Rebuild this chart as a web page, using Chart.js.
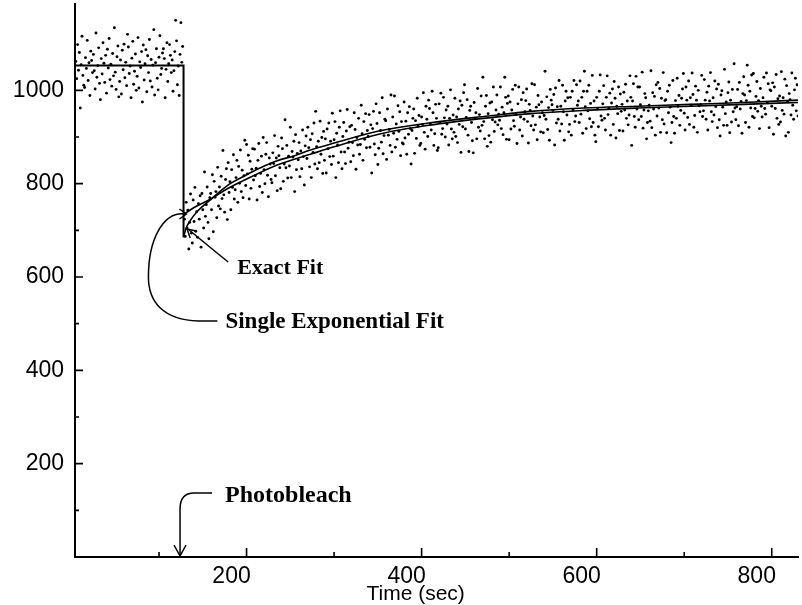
<!DOCTYPE html>
<html>
<head>
<meta charset="utf-8">
<script src="https://cdn.jsdelivr.net/npm/chart.js@4.4.1/dist/chart.umd.min.js"></script>
<style>
  html, body { margin: 0; padding: 0; background: #fff; }
  #wrap { width: 802px; height: 605px; }
</style>
</head>
<body>
<div id="wrap"><canvas id="recoveryChart" width="802" height="605"></canvas></div>
<script>
// sampling: one reading per second
const sampleStart = 5;
const sampleStep = 1;
const recoveryStart = 129;
const bleachTime = 124;

// readings before the bleach (t = 5 .. 127)
const preBleachData = [
  1062, 1025, 1098, 1043, 1081, 962, 1055, 1116, 1032, 1011,
  1006, 1070, 1047, 1107, 1021, 1059, 989, 1084, 1064, 1038,
  1077, 1042, 1003, 1123, 1028, 1053, 1091, 1015, 980, 1068,
  1035, 1102, 1058, 1017, 1075, 994, 1088, 1048, 1111, 1023,
  1056, 1009, 1079, 1031, 1134, 1039, 1002, 1072, 1095, 986,
  1019, 1065, 992, 1086, 1044, 1099, 1027, 1060, 1010, 1120,
  1093, 1036, 1052, 984, 1069, 1105, 1013, 1041, 1078, 1000,
  1030, 1113, 1005, 1061, 1049, 1083, 975, 1097, 1022, 1057,
  1087, 997, 1074, 1038, 1109, 1020, 1066, 1007, 1054, 1130,
  990, 1059, 1089, 1026, 1001, 1071, 1117, 1034, 1047, 1080,
  1089, 1068, 984, 1045, 1102, 1019, 1057, 1098, 1075, 1038,
  1065, 998, 1042, 1083, 1150, 1106, 1012, 1052, 989, 1077,
  1145, 1060, 1094
];

// readings during recovery (t = 129 .. 830)
const recoveryData = [
  724, 687, 760, 705, 743, 660, 717, 778, 694, 673,
  765, 719, 792, 698, 740, 685, 757, 724, 774, 664,
  779, 744, 705, 825, 730, 755, 793, 717, 682, 770,
  779, 744, 819, 697, 805, 771, 783, 727, 835, 752,
  793, 746, 816, 768, 871, 776, 739, 809, 832, 723,
  845, 781, 804, 744, 830, 792, 862, 767, 787, 813,
  850, 760, 837, 801, 872, 783, 829, 770, 817, 893,
  796, 884, 821, 861, 767, 848, 790, 831, 875, 808,
  874, 817, 833, 765, 850, 886, 794, 822, 859, 781,
  899, 830, 800, 863, 888, 818, 772, 855, 842, 809,
  802, 866, 843, 903, 817, 855, 785, 880, 860, 834,
  789, 898, 875, 805, 842, 937, 834, 882, 812, 859,
  838, 921, 813, 869, 857, 891, 783, 905, 830, 865,
  851, 888, 815, 870, 832, 915, 858, 797, 881, 902,
  854, 921, 877, 836, 894, 813, 907, 867, 930, 842,
  955, 879, 832, 891, 845, 934, 863, 899, 822, 912,
  850, 896, 823, 917, 875, 930, 858, 891, 841, 951,
  859, 894, 933, 813, 908, 883, 845, 921, 956, 868,
  832, 901, 931, 868, 843, 913, 959, 876, 889, 922,
  847, 925, 888, 860, 952, 916, 831, 899, 883, 940,
  863, 884, 968, 907, 850, 933, 895, 950, 877, 914,
  901, 948, 878, 926, 823, 918, 955, 885, 862, 971,
  929, 841, 876, 952, 914, 889, 984, 864, 903, 938,
  935, 852, 960, 904, 916, 882, 990, 868, 943, 908,
  988, 878, 928, 895, 967, 912, 954, 860, 933, 887,
  885, 975, 898, 934, 863, 952, 906, 965, 918, 842,
  914, 940, 960, 865, 935, 897, 983, 923, 946, 882,
  886, 943, 927, 995, 910, 874, 966, 938, 901, 979,
  961, 928, 915, 998, 952, 882, 907, 970, 940, 871,
  877, 971, 931, 994, 906, 918, 985, 941, 900, 958,
  928, 966, 883, 940, 1001, 917, 896, 947, 910, 983,
  901, 943, 888, 960, 927, 977, 867, 968, 922, 995,
  1012, 917, 942, 980, 904, 869, 957, 966, 931, 892,
  866, 974, 940, 952, 896, 1004, 921, 948, 913, 988,
  925, 1028, 933, 896, 966, 989, 880, 950, 903, 973,
  889, 975, 937, 1007, 912, 932, 958, 990, 926, 949,
  936, 1007, 918, 964, 905, 952, 1028, 985, 895, 972,
  988, 894, 975, 917, 958, 1002, 935, 923, 1011, 948,
  886, 971, 1007, 915, 943, 980, 902, 995, 938, 954,
  978, 1003, 933, 887, 970, 957, 924, 1014, 945, 915,
  1012, 926, 964, 894, 989, 969, 943, 911, 975, 952,
  909, 946, 1041, 938, 986, 916, 963, 893, 1002, 979,
  969, 957, 991, 883, 1005, 930, 965, 938, 1021, 913,
  966, 928, 1011, 954, 893, 977, 998, 947, 984, 911,
  927, 985, 904, 998, 958, 1021, 933, 945, 1012, 968,
  977, 931, 1020, 949, 985, 908, 998, 1041, 965, 918,
  998, 956, 1011, 939, 972, 922, 1032, 931, 977, 904,
  890, 985, 960, 922, 998, 1033, 945, 936, 971, 1010,
  940, 915, 985, 1031, 948, 961, 994, 904, 973, 1003,
  927, 1019, 983, 898, 966, 950, 1007, 914, 992, 955,
  970, 913, 996, 958, 1013, 940, 977, 926, 947, 1031,
  985, 882, 977, 1014, 944, 921, 1030, 960, 1007, 937,
  1007, 969, 944, 1039, 919, 958, 993, 984, 896, 931,
  956, 968, 934, 1042, 920, 995, 960, 987, 904, 1012,
  945, 1017, 962, 1004, 910, 983, 937, 1038, 928, 978,
  980, 909, 998, 952, 1011, 964, 888, 931, 1021, 944,
  908, 978, 940, 1026, 966, 989, 925, 957, 983, 1003,
  1036, 951, 915, 1007, 979, 942, 1020, 927, 984, 968,
  1037, 991, 921, 946, 1009, 979, 910, 1000, 967, 954,
  969, 1032, 944, 956, 1023, 979, 938, 996, 915, 1009,
  977, 1038, 954, 933, 984, 947, 1020, 965, 1003, 920,
  1013, 937, 902, 990, 999, 964, 925, 1045, 950, 975,
  925, 995, 1018, 909, 979, 932, 1002, 954, 1057, 962,
  937, 965, 1002, 924, 1017, 960, 976, 908, 993, 1029,
  990, 931, 978, 1054, 1011, 921, 998, 962, 1033, 944,
  1036, 941, 961, 987, 1019, 955, 978, 918, 1004, 966,
  943, 984, 1028, 961, 949, 1037, 974, 1014, 920, 1001,
  999, 966, 1016, 906, 1007, 961, 1034, 940, 982, 927,
  988, 932, 1040, 957, 984, 949, 1024, 902, 1010, 976,
  910, 993, 980, 947, 1037, 968, 938, 1001, 1026, 956,
  1012, 945
];

// pre-bleach level and the drop
const stepTimes = [4, 128, 128];
const stepValues = [1053, 1053, 685];

// exact fit
const exactTimes = [128, 131, 136, 145, 159, 178, 198, 216, 235, 255, 273, 300, 351, 408, 476, 525, 586, 647, 707, 768, 830];
const exactValues = [685, 705, 722, 743, 766, 796, 817, 834, 849, 860, 872, 887, 913, 930, 945, 955, 962, 966, 970, 974, 979];

// single exponential fit
const singleTimes = [129, 140, 159, 178, 198, 235, 273, 300, 351, 408, 476, 525, 586, 647, 707, 768, 830];
const singleValues = [735, 749, 767, 789, 808, 840, 863, 879, 906, 925, 941, 950, 957, 962, 966, 970, 974];

// axes
const xMin = 4, xMax = 830;
const yMin = 0, yMax = 1185;
const xTickValues = [200, 400, 600, 800];
const xMinorTicks = [100, 300, 500, 700];
const yTickValues = [200, 400, 600, 800, 1000];
const yMinorTicks = [100, 300, 500, 700, 900];

const points = [];
preBleachData.forEach((v, i) => points.push({ x: sampleStart + i * sampleStep, y: v }));
recoveryData.forEach((v, i) => points.push({ x: recoveryStart + i * sampleStep, y: v }));

const toXY = (ts, vs) => ts.map((t, i) => ({ x: t, y: vs[i] }));

const tickFont = { family: "'Liberation Sans', Arial, sans-serif", size: 23 };

// white background, inward ticks and the hand lettered notes
const paperPlugin = {
  id: "paper",
  beforeDraw(chart) {
    const c = chart.ctx;
    c.save();
    c.fillStyle = "#fff";
    c.fillRect(0, 0, chart.width, chart.height);
    c.restore();
  },
  afterDatasetsDraw(chart) {
    const c = chart.ctx;
    const xs = chart.scales.x, ys = chart.scales.y;
    const left = chart.chartArea.left, base = chart.chartArea.bottom;
    c.save();
    c.strokeStyle = "#000";
    c.fillStyle = "#000";
    c.lineWidth = 1.6;

    // ticks pointing into the plot
    c.beginPath();
    xTickValues.forEach(v => { const p = xs.getPixelForValue(v); c.moveTo(p, base); c.lineTo(p, base - 9); });
    xMinorTicks.forEach(v => { const p = xs.getPixelForValue(v); c.moveTo(p, base); c.lineTo(p, base - 5); });
    yTickValues.forEach(v => { const p = ys.getPixelForValue(v); c.moveTo(left, p); c.lineTo(left + 8, p); });
    yMinorTicks.forEach(v => { const p = ys.getPixelForValue(v); c.moveTo(left, p); c.lineTo(left + 4, p); });
    c.stroke();

    c.lineWidth = 1.5;
    c.font = "bold 24px 'Liberation Serif', 'Times New Roman', serif";
    c.textBaseline = "alphabetic";
    c.textAlign = "left";

    // Photobleach arrow
    const bx = xs.getPixelForValue(bleachTime);
    c.beginPath();
    c.moveTo(bx + 32, base - 64);
    c.lineTo(bx + 14, base - 64);
    c.quadraticCurveTo(bx, base - 64, bx, base - 48);
    c.lineTo(bx, base - 2);
    c.stroke();
    c.beginPath();
    c.moveTo(bx - 6, base - 12);
    c.lineTo(bx, base - 1);
    c.lineTo(bx + 6, base - 12);
    c.stroke();
    c.fillText("Photobleach", bx + 45, base - 55);

    // Exact Fit arrow
    const ex = xs.getPixelForValue(exactTimes[1]) + 1, ey = ys.getPixelForValue(exactValues[1]) + 1;
    c.beginPath();
    c.moveTo(ex + 41, ey + 33);
    c.quadraticCurveTo(ex + 20, ey + 16, ex + 2, ey + 1);
    c.stroke();
    c.beginPath();
    c.moveTo(ex + 3, ey + 9);
    c.lineTo(ex, ey);
    c.lineTo(ex + 9, ey + 2);
    c.stroke();
    c.font = "bold 22px 'Liberation Serif', 'Times New Roman', serif";
    c.fillText("Exact Fit", ex + 50, ey + 45);

    // Single Exponential Fit bracket
    const sx = xs.getPixelForValue(singleTimes[0]) + 2, sy = ys.getPixelForValue(singleValues[0]);
    c.beginPath();
    c.moveTo(sx + 31, sy + 107);
    c.lineTo(sx + 12, sy + 107);
    c.bezierCurveTo(sx - 23, sy + 106, sx - 38, sy + 88, sx - 38, sy + 63);
    c.bezierCurveTo(sx - 38, sy + 25, sx - 23, sy - 3, sx - 1, sy);
    c.stroke();
    c.beginPath();
    c.moveTo(sx - 7, sy - 5);
    c.lineTo(sx, sy);
    c.lineTo(sx - 7, sy + 5);
    c.stroke();
    c.font = "bold 23px 'Liberation Serif', 'Times New Roman', serif";
    c.fillText("Single Exponential Fit", sx + 39, sy + 114);

    // axis title
    c.font = "21px 'Liberation Sans', Arial, sans-serif";
    c.textAlign = "center";
    c.fillText("Time (sec)", xs.getPixelForValue(400) - 6, 600);
    c.restore();
  }
};

const ctx = document.getElementById("recoveryChart").getContext("2d");
const recoveryChart = new Chart(ctx, {
  type: "scatter",
  data: {
    datasets: [
      {
        label: "data",
        data: points,
        backgroundColor: "#000",
        borderWidth: 0,
        pointRadius: 1.45,
        showLine: false
      },
      {
        label: "pre-bleach",
        data: toXY(stepTimes, stepValues),
        showLine: true,
        borderColor: "#000",
        borderWidth: 2,
        pointRadius: 0,
        fill: false
      },
      {
        label: "Exact Fit",
        data: toXY(exactTimes, exactValues),
        showLine: true,
        borderColor: "#000",
        borderWidth: 1.6,
        pointRadius: 0,
        cubicInterpolationMode: "monotone",
        fill: false
      },
      {
        label: "Single Exponential Fit",
        data: toXY(singleTimes, singleValues),
        showLine: true,
        borderColor: "#000",
        borderWidth: 1.6,
        pointRadius: 0,
        cubicInterpolationMode: "monotone",
        fill: false
      }
    ]
  },
  options: {
    responsive: false,
    animation: false,
    devicePixelRatio: 1,
    layout: { padding: 0 },
    plugins: {
      legend: { display: false },
      tooltip: { enabled: false }
    },
    scales: {
      x: {
        type: "linear",
        min: xMin,
        max: xMax,
        grid: { display: false, drawTicks: false, tickLength: 0 },
        border: { display: true, color: "#000", width: 2 },
        afterBuildTicks: s => { s.ticks = xTickValues.map(v => ({ value: v })); },
        afterFit: s => { s.height = 48; s.paddingLeft = 0; s.paddingRight = 0; },
        ticks: {
          color: "#000",
          font: tickFont,
          padding: 6,
          labelOffset: -15,
          maxRotation: 0,
          autoSkip: false,
          callback: v => String(v)
        }
      },
      y: {
        type: "linear",
        min: yMin,
        max: yMax,
        grid: { display: false, drawTicks: false, tickLength: 0 },
        border: { display: true, color: "#000", width: 2 },
        afterBuildTicks: s => { s.ticks = yTickValues.map(v => ({ value: v })); },
        afterFit: s => { s.width = 75; s.paddingTop = 0; s.paddingBottom = 0; },
        ticks: {
          color: "#000",
          font: tickFont,
          padding: 11,
          autoSkip: false,
          callback: v => String(v)
        }
      }
    }
  },
  plugins: [paperPlugin]
});
</script>
</body>
</html>
